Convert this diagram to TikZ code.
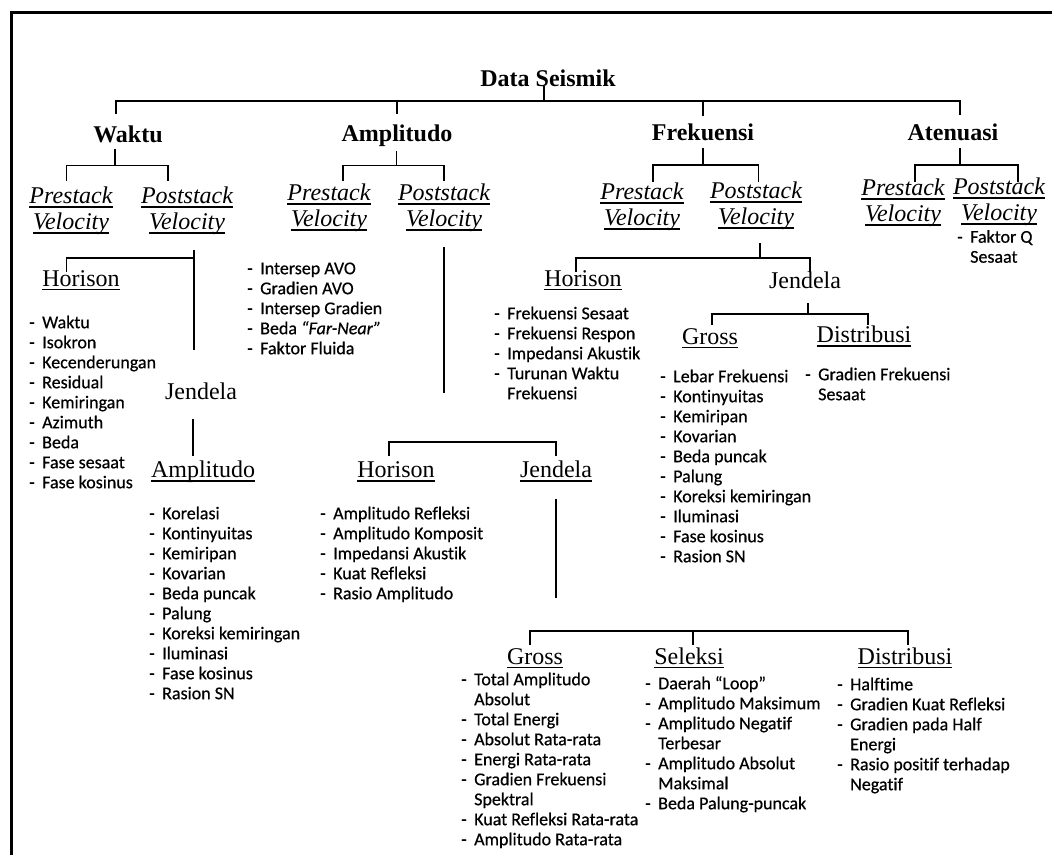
\documentclass[tikz,border=0pt]{standalone}
\usepackage{fontspec}
\setmainfont{Liberation Serif}
\newfontfamily\calfont[FakeBold=0.5,Ligatures=NoCommon]{Carlito}
\newcommand{\ul}[1]{\leavevmode\setbox0=\hbox{#1}\rlap{\rule[-3.8pt]{\wd0}{1.3pt}}\box0}
\newcommand{\li}[1]{\strut\makebox[13pt][l]{-}#1}
\newcommand{\lc}[1]{\strut\hspace*{13pt}#1}
\tikzset{
  ln/.style={line width=1.4pt},
  hA/.style={font=\fontsize{24}{28}\selectfont\bfseries, inner sep=0pt, anchor=base},
  vel/.style={font=\fontsize{24}{26}\selectfont\itshape, align=center, inner sep=0pt, anchor=north},
  hC/.style={font=\fontsize{24}{28}\selectfont, inner sep=0pt, anchor=base},
  lst/.style={font=\calfont\fontsize{18}{20}\selectfont, align=left, inner sep=0pt, anchor=north west},
}
\begin{document}
\begin{tikzpicture}[x=1pt,y=-1pt]
\useasboundingbox (0,0) rectangle (1052,854);
% frame
\draw[line width=3pt] (11,860) -- (11,12) -- (1060,12);

% level 1
\node[hA] (ds) at (548,86) {Data Seismik};
\node[hA] (wk) at (128,142) {Waktu};
\node[hA] (am) at (397,141.5) {Amplitudo};
\node[hA] (fr) at (703,140) {Frekuensi};
\node[hA] (at) at (953,140) {Atenuasi};

% level 2
\node[vel] (wpre) at (71,187) {\ul{Prestack}\\\ul{Velocity}};
\node[vel] (wpost) at (187,187) {\ul{Poststack}\\\ul{Velocity}};
\node[vel] (apre) at (329,184) {\ul{Prestack}\\\ul{Velocity}};
\node[vel] (apost) at (444,184) {\ul{Poststack}\\\ul{Velocity}};
\node[vel] (fpre) at (642,183) {\ul{Prestack}\\\ul{Velocity}};
\node[vel] (fpost) at (756,182) {\ul{Poststack}\\\ul{Velocity}};
\node[vel] (tpre) at (903,179) {\ul{Prestack}\\\ul{Velocity}};
\node[vel] (tpost) at (999,178) {\ul{Poststack}\\\ul{Velocity}};

% level 3 headings
\node[hC] (whor) at (81,286.5) {\ul{Horison}};
\node[hC] (wjen) at (201,399) {Jendela};
\node[hC] (wamp) at (203,477.7) {\ul{Amplitudo}};
\node[hC] (ahor) at (396,477.7) {\ul{Horison}};
\node[hC] (ajen) at (556,477.7) {\ul{Jendela}};
\node[hC] (fhor) at (583,286) {\ul{Horison}};
\node[hC] (fjen) at (805,288) {Jendela};
\node[hC] (fgro) at (710,344) {\ul{Gross}};
\node[hC] (fdis) at (864,342.7) {\ul{Distribusi}};
\node[hC] (agro) at (535,664) {\ul{Gross}};
\node[hC] (asel) at (689,664) {\ul{Seleksi}};
\node[hC] (adis) at (905,664) {\ul{Distribusi}};

% lists
\node[lst] (tq) at (957,228.5) {\li{Faktor Q}\\\lc{Sesaat}};
\node[lst] (wh) at (29,314) {\li{Waktu}\\\li{Isokron}\\\li{Kecenderungan}\\\li{Residual}\\\li{Kemiringan}\\\li{Azimuth}\\\li{Beda}\\\li{Fase sesaat}\\\li{Fase kosinus}};
\node[lst] (wa) at (149,505) {\li{Korelasi}\\\li{Kontinyuitas}\\\li{Kemiripan}\\\li{Kovarian}\\\li{Beda puncak}\\\li{Palung}\\\li{Koreksi kemiringan}\\\li{Iluminasi}\\\li{Fase kosinus}\\\li{Rasion SN}};
\node[lst] (ap) at (247,260) {\li{Intersep AVO}\\\li{Gradien AVO}\\\li{Intersep Gradien}\\\li{Beda \textit{“Far-Near”}}\\\li{Faktor Fluida}};
\node[lst] (ah) at (320,505) {\li{Amplitudo Refleksi}\\\li{Amplitudo Komposit}\\\li{Impedansi Akustik}\\\li{Kuat Refleksi}\\\li{Rasio Amplitudo}};
\node[lst] (fh) at (494,305) {\li{Frekuensi Sesaat}\\\li{Frekuensi Respon}\\\li{Impedansi Akustik}\\\li{Turunan Waktu}\\\lc{Frekuensi}};
\node[lst] (fg) at (660,368) {\li{Lebar Frekuensi}\\\li{Kontinyuitas}\\\li{Kemiripan}\\\li{Kovarian}\\\li{Beda puncak}\\\li{Palung}\\\li{Koreksi kemiringan}\\\li{Iluminasi}\\\li{Fase kosinus}\\\li{Rasion SN}};
\node[lst] (fd) at (805,366) {\li{Gradien Frekuensi}\\\lc{Sesaat}};
\node[lst] (ag) at (461,671) {\li{Total Amplitudo}\\\lc{Absolut}\\\li{Total Energi}\\\li{Absolut Rata-rata}\\\li{Energi Rata-rata}\\\li{Gradien Frekuensi}\\\lc{Spektral}\\\li{Kuat Refleksi Rata-rata}\\\li{Amplitudo Rata-rata}};
\node[lst] (as) at (645,675) {\li{Daerah “Loop”}\\\li{Amplitudo Maksimum}\\\li{Amplitudo Negatif}\\\lc{Terbesar}\\\li{Amplitudo Absolut}\\\lc{Maksimal}\\\li{Beda Palung-puncak}};
\node[lst] (ad) at (837,676) {\li{Halftime}\\\li{Gradien Kuat Refleksi}\\\li{Gradien pada Half}\\\lc{Energi}\\\li{Rasio positif terhadap}\\\lc{Negatif}};

% ---- connectors ----
% top bracket
\coordinate (T0) at (544,101);
\coordinate (Tw) at (116,114);
\coordinate (Ta) at (397,114);
\coordinate (Tf) at (703,116);
\coordinate (Tt) at (960,115);
\draw[ln] (T0 |- ds.south) -- (T0);
\draw[ln] (Tw) -- (Tw |- T0) -- (Tt |- T0) -- (Tt);
\draw[ln] (Ta |- T0) -- (Ta);
\draw[ln] (Tf |- T0) -- (Tf);

% Waktu bracket
\coordinate (W0) at (115,165.6);
\coordinate (W1) at (66.6,181);
\coordinate (W2) at (168,181);
\draw[ln,shorten <=6pt] (W0 |- wk.south) -- (W0);
\draw[ln] (W1) -- (W1 |- W0) -- (W2 |- W0) -- (W2);

% Amplitudo bracket
\coordinate (A0) at (396.5,165.6);
\coordinate (A1) at (343,181);
\coordinate (A2) at (444,181);
\draw[ln,shorten <=4pt] (A0 |- am.south) -- (A0);
\draw[ln] (A1) -- (A1 |- A0) -- (A2 |- A0) -- (A2);

% Frekuensi bracket
\coordinate (F0) at (703,165);
\coordinate (F1) at (653,181.5);
\coordinate (F2) at (758.5,181.5);
\draw[ln,shorten <=8pt] (F0 |- fr.south) -- (F0);
\draw[ln] (F1) -- (F1 |- F0) -- (F2 |- F0) -- (F2);

% Atenuasi bracket
\coordinate (Q0) at (960,165);
\coordinate (Q1) at (915,181.5);
\coordinate (Q2) at (1018,181.5);
\draw[ln,shorten <=8pt] (Q0 |- at.south) -- (Q0);
\draw[ln] (Q1) -- (Q1 |- Q0) -- (Q2 |- Q0) -- (Q2);

% Waktu poststack subtree
\coordinate (WP0) at (194,250);
\coordinate (WP1) at (194,350);
\coordinate (WB) at (194,258);
\coordinate (WH) at (66.6,272);
\draw[ln] (WP0) -- (WP1);
\draw[ln] (WH) -- (WH |- WB) -- (WB);
\coordinate (WJ) at (193,456);
\draw[ln,shorten <=20pt] (WJ |- wjen.south) -- (WJ);

% Amplitudo poststack subtree
\coordinate (AP1) at (444,393);
\draw[ln,shorten <=15pt] (AP1 |- apost.south) -- (AP1);
\coordinate (AB) at (389,442);
\coordinate (AB1) at (389,456);
\coordinate (AB2) at (556,456);
\draw[ln] (AB1) -- (AB) -- (AB2 |- AB) -- (AB2);
\coordinate (AJ) at (556,598);
\draw[ln,shorten <=17pt] (AJ |- ajen.south) -- (AJ);
\coordinate (AG) at (530,645);
\coordinate (AS) at (693,645);
\coordinate (AD) at (908,645);
\coordinate (AM) at (530,631);
\draw[ln] (AG) -- (AM) -- (AD |- AM) -- (AD);
\draw[ln] (AS |- AM) -- (AS);

% Frekuensi poststack subtree
\coordinate (FP) at (760,258);
\coordinate (FH) at (576,271.5);
\coordinate (FJ) at (810,271.5);
\draw[ln,shorten <=13pt] (FP |- fpost.south) -- (FP);
\draw[ln] (FH) -- (FH |- FP) -- (FJ |- FP) -- (FJ);

% Frekuensi jendela subtree
\coordinate (FJ0) at (808,314);
\coordinate (FG) at (712,325);
\coordinate (FD) at (868,325);
\draw[ln,shorten <=15pt] (FJ0 |- fjen.south) -- (FJ0);
\draw[ln] (FG) -- (FG |- FJ0) -- (FD |- FJ0) -- (FD);
\end{tikzpicture}
\end{document}
